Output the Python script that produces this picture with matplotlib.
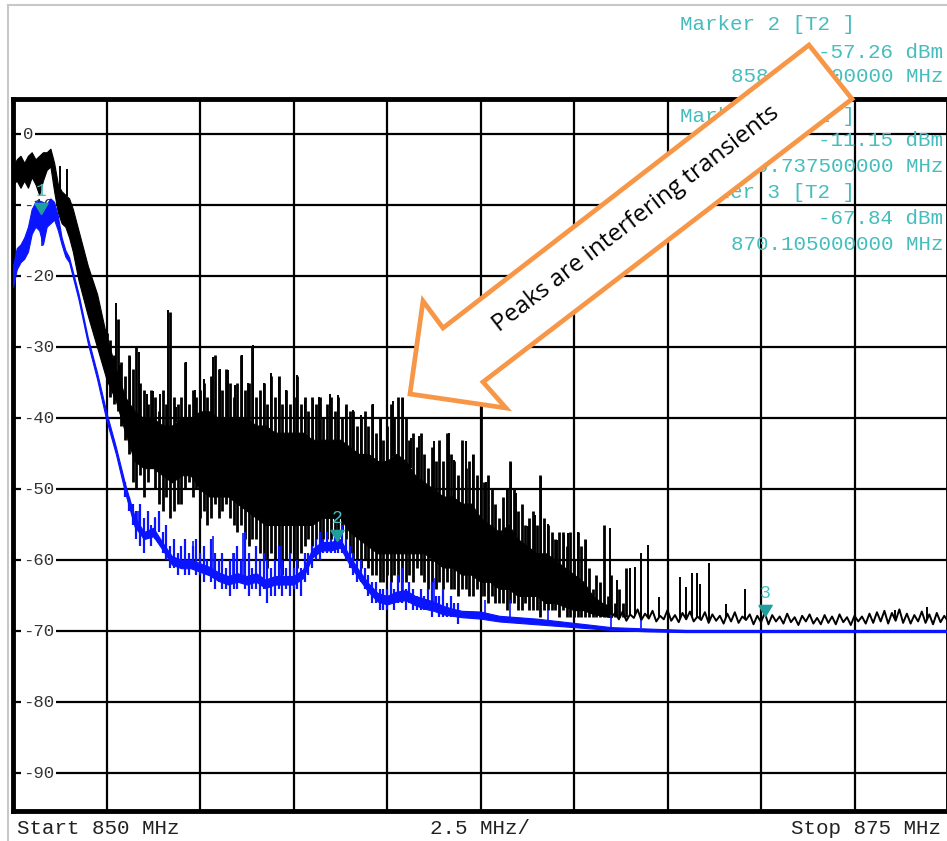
import numpy as np
import matplotlib
matplotlib.use("Agg")
import matplotlib.pyplot as plt
from matplotlib.patches import Polygon
from matplotlib.lines import Line2D
from matplotlib.markers import MarkerStyle
from matplotlib.path import Path

W, H = 947, 841

# black trace (T2): solid core of the band, upper / lower edge (MHz, dBm)
bk_f = [850.0, 850.1, 850.2, 850.3, 850.4, 850.5, 850.6, 850.7, 850.8, 850.9,
        851.0, 851.1, 851.2, 851.3, 851.4, 851.5, 851.6, 851.75, 852.0, 852.25,
        852.5, 852.75, 853.0, 853.25, 853.5, 853.75, 854.0, 854.25, 854.5, 854.75,
        855.0, 855.25, 855.5, 855.75, 856.0, 856.25, 856.5, 856.75, 857.0, 857.25,
        857.5, 857.75, 858.0, 858.25, 858.5, 858.75, 859.0, 859.25, 859.5, 859.75,
        860.0, 860.25, 860.5, 860.75, 861.0, 861.25, 861.5, 861.75, 862.0, 862.25,
        862.5, 862.75, 863.0, 863.25, 863.5, 863.75, 864.0, 864.25, 864.5, 864.75,
        865.0, 865.25, 865.5, 865.75, 866.0]
bk_hi = [-4.5, -3.5, -3.0, -4.0, -3.0, -2.5, -3.5, -3.0, -2.5, -2.5,
         -2.0, -4.0, -7.0, -8.0, -8.5, -9.0, -10.5, -13.5, -18.5, -22.5,
         -28.5, -33.0, -37.0, -39.0, -40.0, -40.0, -41.0, -41.0, -40.0, -40.0,
         -39.0, -39.0, -40.0, -40.0, -40.0, -40.0, -41.0, -41.0, -42.0, -42.0,
         -42.0, -42.0, -43.0, -43.0, -43.0, -43.0, -44.0, -45.0, -45.0, -46.0,
         -46.0, -45.0, -46.0, -48.0, -49.0, -50.0, -51.0, -51.0, -52.0, -52.0,
         -54.0, -55.0, -56.0, -55.0, -57.0, -58.0, -59.0, -59.0, -60.0, -61.0,
         -62.0, -63.0, -65.0, -66.0, -66.5]
bk_lo = [-7.0, -6.5, -7.5, -6.5, -7.5, -6.0, -7.0, -8.5, -6.5, -5.0,
         -4.5, -8.0, -11.0, -12.5, -13.0, -14.5, -16.5, -20.5, -25.5, -30.0,
         -34.5, -37.5, -42.0, -46.0, -47.0, -47.0, -48.0, -49.0, -48.0, -48.0,
         -50.0, -51.0, -51.0, -51.0, -52.0, -53.0, -54.0, -55.0, -55.0, -55.0,
         -55.0, -55.0, -55.0, -54.0, -54.0, -54.0, -56.0, -57.0, -58.0, -59.0,
         -59.0, -59.0, -59.0, -59.0, -59.0, -60.0, -61.0, -61.0, -62.0, -62.0,
         -63.0, -63.0, -64.0, -64.0, -65.0, -65.0, -65.0, -66.0, -66.0, -66.5,
         -67.0, -67.0, -67.5, -67.8, -68.0]

# black trace strokes every 0.1 MHz from 852.5 MHz: top and bottom of each stroke
stk_f = [852.5 + 0.1 * i for i in range(140)]
stk_top = [-28, -29, -31, -26, -32, -34, -31, -33, -30, -35,
           -36, -38, -36, -37, -39, -36, -38, -25, -37, -38,
           -37, -32, -38, -36, -37, -36, -35, -37, -34, -31,
           -33, -36, -33, -35, -37, -35, -31, -36, -35, -30,
           -37, -36, -35, -38, -34, -37, -34, -38, -36, -38,
           -37, -34, -38, -37, -39, -37, -38, -37, -40, -38,
           -37, -39, -37, -40, -38, -39, -39, -41, -40, -39,
           -41, -38, -42, -40, -43, -41, -38, -40, -37, -37,
           -40, -43, -42, -44, -42, -45, -47, -44, -46, -43,
           -46, -42, -45, -46, -48, -43, -47, -46, -45, -48,
           -38, -49, -48, -50, -52, -54, -51, -50, -46, -50,
           -53, -52, -55, -54, -53, -55, -48, -54, -55, -56,
           -57, -56, -56, -58, -56, -60, -56, -58, -57, -61,
           -64, -62, -63, -55, -65, -62, -66, -64, -66, -61]
stk_bot = [-35, -37, -38, -39, -41, -43, -45, -49, -50, -48,
           -51, -49, -47, -50, -52, -53, -51, -54, -53, -52,
           -52, -50, -49, -51, -50, -54, -53, -55, -54, -52,
           -54, -53, -52, -54, -55, -56, -55, -57, -58, -57,
           -57, -59, -60, -61, -59, -60, -61, -62, -60, -59,
           -60, -61, -59, -58, -57, -58, -57, -58, -57, -57,
           -57, -56, -57, -56, -57, -59, -60, -60, -61, -60,
           -61, -62, -62, -63, -63, -62, -63, -62, -63, -63,
           -63, -62, -63, -61, -62, -63, -64, -63, -64, -63,
           -64, -63, -64, -64, -65, -64, -64, -65, -65, -64,
           -65, -65, -66, -65, -66, -66, -66, -67, -66, -66,
           -67, -67, -66, -67, -67, -67, -68, -67, -67, -67,
           -67, -68, -67, -68, -68, -68, -68, -68, -68, -68,
           -68, -68, -68, -68, -68, -68, -68, -68, -68, -68]

# black trace tail, 866.0 .. 875.0 MHz in 0.1 MHz steps
tail_f = [866.0 + 0.1 * i for i in range(91)]
tail_db = [-68.0, -67.4, -68.3, -67.2, -68.5, -67.6, -68.1, -66.9, -68.4, -67.5,
           -68.2, -67.1, -68.6, -67.8, -68.3, -67.0, -68.5, -67.7, -68.7, -67.4,
           -68.3, -67.2, -68.6, -67.9, -68.4, -67.3, -68.8, -67.6, -68.5, -67.8,
           -68.9, -67.5, -68.6, -67.3, -68.8, -67.9, -68.4, -67.6, -69.0, -67.8,
           -68.7, -67.4, -69.0, -67.7, -68.6, -67.9, -68.9, -67.5, -68.7, -68.0,
           -69.1, -67.8, -68.6, -67.6, -68.9, -68.1, -69.0, -67.7, -68.8, -67.9,
           -69.0, -67.6, -68.7, -68.0, -69.1, -67.8, -68.6, -67.9, -68.9, -67.5,
           -68.8, -67.3, -68.6, -67.1, -68.9, -67.4, -68.5, -66.9, -68.8, -67.5,
           -68.9, -67.7, -68.6, -67.2, -68.8, -67.6, -69.0, -67.4, -68.7, -67.8,
           -68.6]

# tall transient peaks on the black trace
spk_f = [851.25, 851.44, 852.09, 852.23, 852.75, 852.85, 853.12, 853.37, 853.57, 853.73,
         853.92, 854.14, 854.37, 854.63, 854.86, 855.12, 855.35, 855.54, 855.75, 855.93,
         856.13, 856.28, 856.43, 856.70, 856.91, 857.10, 857.31, 857.59, 857.80, 858.02,
         858.18, 858.47, 858.69, 858.91, 859.09, 859.31, 859.63, 859.85, 860.17, 860.44,
         860.63, 860.85, 861.26, 861.65, 861.79, 862.10, 862.31, 862.52, 862.66, 862.91,
         863.20, 863.31, 863.44, 863.78, 863.97, 864.11, 864.31, 864.55, 864.73, 864.84,
         865.12, 865.33, 865.95, 866.15, 866.51, 866.64, 866.80, 866.98, 867.27, 867.83,
         868.00, 868.16, 868.29, 868.38, 868.62, 869.06, 869.56, 873.57, 874.44]
spk_db = [-4.5, -4.9, -20.0, -22.6, -23.8, -32.5, -31.3, -30.6, -36.5, -36.2,
          -36.5, -24.7, -38.4, -32.0, -36.0, -34.4, -31.3, -33.0, -33.2, -35.3,
          -31.0, -35.0, -29.6, -35.0, -33.6, -34.1, -36.0, -33.9, -37.6, -37.4,
          -37.0, -36.5, -36.7, -38.4, -38.8, -39.5, -37.9, -39.8, -37.5, -37.1,
          -42.7, -42.5, -43.2, -42.0, -45.8, -43.2, -45.1, -38.5, -48.9, -56.2,
          -50.0, -46.3, -50.5, -55.2, -53.6, -48.2, -54.8, -57.1, -56.4, -56.2,
          -56.0, -57.1, -55.5, -62.8, -61.1, -60.9, -59.0, -57.8, -65.1, -62.3,
          -63.7, -61.8, -61.8, -63.3, -60.4, -66.1, -64.0, -67.0, -66.6]

# blue trace (T1): core upper / lower edge
bl_f = [850.0, 850.1, 850.2, 850.3, 850.4, 850.5, 850.6, 850.7, 850.8, 850.9,
        851.0, 851.1, 851.2, 851.3, 851.4, 851.5, 851.75, 852.0, 852.25, 852.5,
        852.75, 853.0, 853.25, 853.5, 853.75, 854.0, 854.25, 854.5, 854.75, 855.0,
        855.25, 855.5, 855.75, 856.0, 856.25, 856.5, 856.75, 857.0, 857.25, 857.5,
        857.75, 858.0, 858.25, 858.5, 858.75, 859.0, 859.25, 859.5, 859.75, 860.0,
        860.25, 860.5, 860.75, 861.0, 861.25, 861.5, 861.75, 862.0, 862.5, 863.0,
        863.5, 864.0, 864.5, 865.0, 865.5, 866.0, 867.0, 868.0, 870.0, 875.0]
bl_hi = [-18.5, -16.0, -15.5, -14.5, -13.0, -10.5, -9.5, -9.3, -9.5, -9.8,
         -9.0, -9.5, -11.5, -14.5, -16.3, -17.3, -22.4, -28.6, -33.6, -39.2,
         -44.0, -49.3, -53.8, -56.0, -55.4, -57.5, -59.4, -59.9, -59.9, -60.4,
         -60.9, -61.7, -62.2, -61.8, -62.2, -61.8, -62.7, -62.2, -62.2, -62.2,
         -61.3, -58.4, -57.4, -57.4, -57.0, -59.4, -61.4, -63.2, -64.6, -65.0,
         -64.4, -64.2, -65.0, -65.4, -65.8, -66.4, -66.8, -67.1, -67.2, -67.8,
         -68.0, -68.2, -68.5, -68.8, -69.1, -69.4, -69.6, -69.8, -69.8, -69.8]
bl_lo = [-21.5, -19.0, -18.0, -17.5, -16.5, -14.0, -13.0, -13.5, -15.5, -13.0,
         -12.5, -12.0, -13.5, -15.5, -17.2, -18.0, -23.2, -29.4, -34.5, -40.3,
         -45.0, -50.5, -55.2, -57.0, -56.6, -58.5, -60.6, -61.1, -61.1, -61.6,
         -62.1, -62.9, -63.4, -63.0, -63.4, -63.0, -63.9, -63.4, -63.4, -63.4,
         -62.5, -59.6, -58.6, -58.6, -58.2, -60.6, -62.6, -64.4, -65.8, -66.2,
         -65.8, -65.6, -66.3, -66.8, -67.1, -67.6, -67.8, -68.0, -68.2, -68.6,
         -68.8, -69.0, -69.2, -69.4, -69.6, -69.8, -70.0, -70.1, -70.1, -70.1]

# blue trace strokes every 0.1 MHz from 853.0 MHz
bstk_f = [853.0 + 0.1 * i for i in range(90)]
bstk_top = [-49, -51, -52, -53, -52, -54, -53, -55, -54, -53,
            -56, -55, -58, -57, -59, -58, -57, -59, -58, -57,
            -59, -58, -60, -57, -59, -60, -59, -61, -60, -59,
            -58, -60, -56, -59, -61, -58, -60, -59, -60, -61,
            -60, -58, -60, -61, -59, -61, -60, -61, -59, -59,
            -58, -57, -56, -57, -56, -57, -56, -56, -55, -57,
            -58, -59, -60, -60, -61, -62, -63, -63, -64, -64,
            -64, -63, -64, -62, -61, -64, -63, -64, -65, -64,
            -65, -64, -63, -65, -65, -64, -66, -65, -66, -66]
bstk_bot = [-51, -53, -55, -57, -58, -59, -57, -58, -57, -56,
            -59, -60, -61, -61, -62, -61, -62, -62, -61, -62,
            -62, -63, -62, -63, -64, -63, -64, -64, -65, -64,
            -64, -63, -64, -65, -64, -64, -65, -64, -66, -65,
            -65, -64, -65, -64, -65, -64, -64, -65, -63, -62,
            -61, -60, -60, -59, -59, -59, -59, -59, -59, -60,
            -61, -62, -63, -63, -64, -65, -66, -66, -67, -67,
            -67, -66, -67, -66, -66, -67, -66, -67, -67, -67,
            -67, -67, -68, -67, -68, -68, -68, -68, -68, -69]

# isolated peaks on the blue trace
bspk_f = [850.78, 853.34, 853.79, 854.81, 855.35, 855.88, 856.15, 856.50, 857.17,
          860.44, 861.26, 862.62, 863.30, 864.30, 866.00, 866.80]
bspk_db = [-15.7, -53.0, -53.9, -57.2, -56.5, -59.0, -56.2, -58.4, -57.9,
           -61.1, -62.5, -65.6, -65.6, -67.0, -67.7, -68.4]

# markers: number, freq, level
mk_num = ["1", "2", "3"]
mk_f = [850.7375, 858.675, 870.105]
mk_db = [-11.15, -57.26, -67.84]

x_ticks = [850 + 2.5 * i for i in range(11)]
y_ticks = [0, -10, -20, -30, -40, -50, -60, -70, -80, -90]

fig = plt.figure(figsize=(W / 100, H / 100), dpi=100)
fig.patch.set_facecolor("white")


def fx(px):
    return px / W


def fy(py):
    return 1 - py / H


ax = fig.add_axes([fx(13), fy(811), (948 - 13) / W, (811 - 98.5) / H])
ax.set_xlim(850, 875)
ax.set_ylim(-95.3, 5.07)
ax.set_xticks(x_ticks)
ax.set_yticks(y_ticks)
ax.tick_params(length=0, labelbottom=False, labelleft=False)
ax.grid(True, color="black", lw=1.6)
ax.set_axisbelow(True)
for s in ax.spines.values():
    s.set_linewidth(3.5)
    s.set_color("black")

# level labels sit on the grid lines
for v in y_ticks:
    ax.text(10 / 935, v, str(v), transform=ax.get_yaxis_transform(),
            ha="left", va="center", fontsize=12.5, family="Liberation Mono",
            color="#333333", zorder=1,
            bbox=dict(boxstyle="square,pad=0.1", fc="white", ec="none"))

# black trace
black = "black"
ax.fill_between(bk_f, bk_lo, bk_hi, color=black, lw=0.8, zorder=2)
ax.vlines(stk_f, stk_bot, stk_top, color=black, lw=2.0, zorder=2)
ax.plot(tail_f, tail_db, color=black, lw=1.4, zorder=2)
base = np.interp(spk_f, bk_f + tail_f, bk_hi + tail_db)
ax.vlines(spk_f, base, spk_db, color=black, lw=1.4, zorder=2)

# blue trace
blue = "#0a14ff"
ax.fill_between(bl_f, bl_lo, bl_hi, color=blue, lw=0.8, zorder=3)
ax.vlines(bstk_f, bstk_bot, bstk_top, color=blue, lw=1.6, zorder=3)
bbase = np.interp(bspk_f, bl_f, bl_hi)
ax.vlines(bspk_f, bbase, bspk_db, color=blue, lw=1.2, zorder=3)

# marker triangles with the tip on the trace
tri = MarkerStyle(Path([(-1.2, 2), (1.2, 2), (0, 0), (-1.2, 2)]))
ax.plot(mk_f, mk_db, ls="none", marker=tri, ms=16, color="#1f9e9e", zorder=5)
for n, f, d in zip(mk_num, mk_f, mk_db):
    ax.annotate(n, (f, d), xytext=(0, 10), textcoords="offset points",
                ha="center", va="bottom", fontsize=13, family="Liberation Mono",
                color="#45c0c0", zorder=5)

# marker readout
teal = "#45bdbd"
left_lines = [("Marker 2 [T2 ]", 25), ("Marker 1 [T1 ]", 116), ("Marker 3 [T2 ]", 193)]
right_lines = [("-57.26 dBm", 52), ("858.675000000 MHz", 77),
               ("-11.15 dBm", 141), ("850.737500000 MHz", 167),
               ("-67.84 dBm", 219), ("870.105000000 MHz", 245)]
for t, py in left_lines:
    fig.text(fx(680), fy(py), t, ha="left", va="center", fontsize=15,
             family="Liberation Mono", color=teal, zorder=6)
for t, py in right_lines:
    fig.text(fx(943), fy(py), t, ha="right", va="center", fontsize=15,
             family="Liberation Mono", color=teal, zorder=6)

# bottom annotations
fig.text(fx(17), fy(829), "Start 850 MHz", ha="left", va="center", fontsize=15,
         family="Liberation Mono", color="#222222")
fig.text(fx(480), fy(829), "2.5 MHz/", ha="center", va="center", fontsize=15,
         family="Liberation Mono", color="#222222")
fig.text(fx(791), fy(829), "Stop 875 MHz", ha="left", va="center", fontsize=15,
         family="Liberation Mono", color="#222222")

# light outer frame of the screenshot
fig.add_artist(Line2D([fx(8), fx(8)], [fy(5), 0], color="#c8c8c8", lw=1.5,
                      transform=fig.transFigure))
fig.add_artist(Line2D([fx(8), 1], [fy(5), fy(5)], color="#c8c8c8", lw=1.5,
                      transform=fig.transFigure))

# callout arrow
arrow_px = [(410, 394), (423, 301), (443, 328), (809, 45), (852, 99),
            (483, 382), (506, 408)]
arrow = Polygon([(fx(x), fy(y)) for x, y in arrow_px], closed=True,
                transform=fig.transFigure, fc="white", ec="#f79646", lw=3.4,
                joinstyle="miter", zorder=10)
fig.add_artist(arrow)
fig.text(fx(636), fy(219), "Peaks are interfering transients", rotation=37.7,
         rotation_mode="anchor", ha="center", va="center", fontsize=17.5,
         family="Open Sans", color="black", zorder=11)

fig.savefig("out.png", dpi=100)
